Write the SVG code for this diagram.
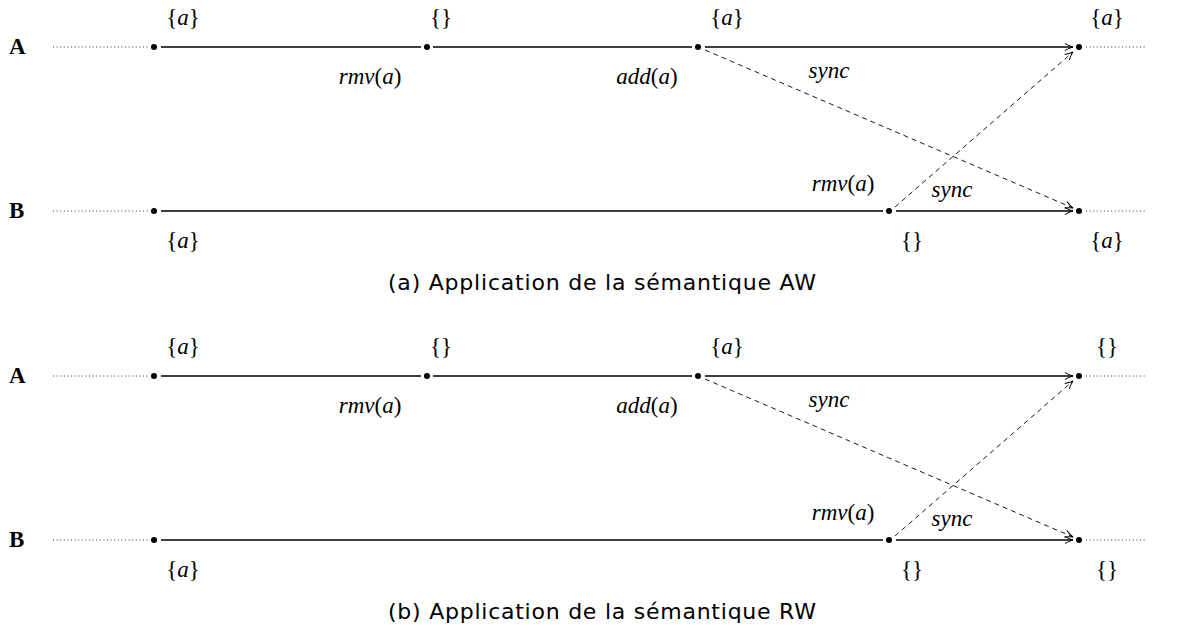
<svg xmlns="http://www.w3.org/2000/svg" width="1181" height="628" viewBox="0 0 1181 628">
<style>
.bg{fill:#fff}
.dot{fill:#000}
.solid{stroke:#000;stroke-width:1.3;fill:none}
.dash{stroke:#000;stroke-width:0.9;stroke-dasharray:5,4;fill:none}
.dotted{stroke:#000;stroke-width:0.8;stroke-dasharray:1,2.6;fill:none}
.m{font-family:"Liberation Serif","DejaVu Serif",serif;font-size:23px;fill:#000}
.i{font-style:italic}
.lab{font-family:"Liberation Serif","DejaVu Serif",serif;font-size:23px;font-weight:bold;fill:#000}
.cap{font-family:"DejaVu Sans","Liberation Sans",sans-serif;font-size:22px;fill:#000}
</style>
<defs>
<marker id="arr" viewBox="0 0 10 10" refX="9" refY="5" markerWidth="10" markerHeight="10" markerUnits="userSpaceOnUse" orient="auto">
<path d="M1,1.5 Q5,4 9,5 Q5,6 1,8.5" fill="none" stroke="#000" stroke-width="1"/>
</marker>
</defs>
<rect class="bg" width="1181" height="628"/>

<!-- Diagram (a) -->
<g id="connectors-a">
<line class="dotted" x1="53" y1="47" x2="148" y2="47"/>
<line class="dotted" x1="1086" y1="47" x2="1146" y2="47"/>
<line class="dotted" x1="53" y1="211" x2="148" y2="211"/>
<line class="dotted" x1="1086" y1="211" x2="1146" y2="211"/>
<line class="solid" x1="161" y1="47" x2="421" y2="47"/>
<line class="solid" x1="433" y1="47" x2="692" y2="47"/>
<line class="solid" x1="705" y1="47" x2="1073" y2="47" marker-end="url(#arr)"/>
<line class="solid" x1="161" y1="211" x2="883" y2="211"/>
<line class="solid" x1="896" y1="211" x2="1073" y2="211" marker-end="url(#arr)"/>
<line class="dash" x1="705" y1="50" x2="1073" y2="208" marker-end="url(#arr)"/>
<line class="dash" x1="895" y1="207" x2="1073" y2="52" marker-end="url(#arr)"/>
</g>
<g id="a-A-label"><text class="lab" x="9" y="54">A</text></g>
<g id="a-B-label"><text class="lab" x="9" y="218">B</text></g>
<g id="a-A1"><circle class="dot" cx="154" cy="47" r="3"/><text class="m" x="183" y="25" text-anchor="middle">{<tspan class="i">a</tspan>}</text></g>
<g id="a-A2"><circle class="dot" cx="427" cy="47" r="3"/><text class="m" x="441" y="25" text-anchor="middle">{}</text><text class="m i" x="370" y="84" text-anchor="middle">rmv<tspan font-style="normal">(</tspan>a<tspan font-style="normal">)</tspan></text></g>
<g id="a-A3"><circle class="dot" cx="698" cy="47" r="3"/><text class="m" x="727" y="25" text-anchor="middle">{<tspan class="i">a</tspan>}</text><text class="m i" x="647" y="84" text-anchor="middle">add<tspan font-style="normal">(</tspan>a<tspan font-style="normal">)</tspan></text><text class="m i" x="829" y="78" text-anchor="middle">sync</text></g>
<g id="a-A4"><circle class="dot" cx="1079" cy="47" r="3"/><text class="m" x="1107" y="25" text-anchor="middle">{<tspan class="i">a</tspan>}</text></g>
<g id="a-B1"><circle class="dot" cx="154" cy="211" r="3"/><text class="m" x="183" y="248" text-anchor="middle">{<tspan class="i">a</tspan>}</text></g>
<g id="a-B2"><circle class="dot" cx="889" cy="211" r="3"/><text class="m i" x="843" y="191" text-anchor="middle">rmv<tspan font-style="normal">(</tspan>a<tspan font-style="normal">)</tspan></text><text class="m" x="912" y="248" text-anchor="middle">{}</text><text class="m i" x="952" y="197" text-anchor="middle">sync</text></g>
<g id="a-B3"><circle class="dot" cx="1079" cy="211" r="3"/><text class="m" x="1107" y="248" text-anchor="middle">{<tspan class="i">a</tspan>}</text></g>
<g id="caption-a"><text class="cap" x="388" y="290" textLength="428" lengthAdjust="spacing">(a) Application de la sémantique AW</text></g>

<!-- Diagram (b) -->
<g id="connectors-b" transform="translate(0,329)">
<line class="dotted" x1="53" y1="47" x2="148" y2="47"/>
<line class="dotted" x1="1086" y1="47" x2="1146" y2="47"/>
<line class="dotted" x1="53" y1="211" x2="148" y2="211"/>
<line class="dotted" x1="1086" y1="211" x2="1146" y2="211"/>
<line class="solid" x1="161" y1="47" x2="421" y2="47"/>
<line class="solid" x1="433" y1="47" x2="692" y2="47"/>
<line class="solid" x1="705" y1="47" x2="1073" y2="47" marker-end="url(#arr)"/>
<line class="solid" x1="161" y1="211" x2="883" y2="211"/>
<line class="solid" x1="896" y1="211" x2="1073" y2="211" marker-end="url(#arr)"/>
<line class="dash" x1="705" y1="50" x2="1073" y2="208" marker-end="url(#arr)"/>
<line class="dash" x1="895" y1="207" x2="1073" y2="52" marker-end="url(#arr)"/>
</g>
<g transform="translate(0,329)">
<g id="b-A-label"><text class="lab" x="9" y="54">A</text></g>
<g id="b-B-label"><text class="lab" x="9" y="218">B</text></g>
<g id="b-A1"><circle class="dot" cx="154" cy="47" r="3"/><text class="m" x="183" y="25" text-anchor="middle">{<tspan class="i">a</tspan>}</text></g>
<g id="b-A2"><circle class="dot" cx="427" cy="47" r="3"/><text class="m" x="441" y="25" text-anchor="middle">{}</text><text class="m i" x="370" y="84" text-anchor="middle">rmv<tspan font-style="normal">(</tspan>a<tspan font-style="normal">)</tspan></text></g>
<g id="b-A3"><circle class="dot" cx="698" cy="47" r="3"/><text class="m" x="727" y="25" text-anchor="middle">{<tspan class="i">a</tspan>}</text><text class="m i" x="647" y="84" text-anchor="middle">add<tspan font-style="normal">(</tspan>a<tspan font-style="normal">)</tspan></text><text class="m i" x="829" y="78" text-anchor="middle">sync</text></g>
<g id="b-A4"><circle class="dot" cx="1079" cy="47" r="3"/><text class="m" x="1107" y="25" text-anchor="middle">{}</text></g>
<g id="b-B1"><circle class="dot" cx="154" cy="211" r="3"/><text class="m" x="183" y="248" text-anchor="middle">{<tspan class="i">a</tspan>}</text></g>
<g id="b-B2"><circle class="dot" cx="889" cy="211" r="3"/><text class="m i" x="843" y="191" text-anchor="middle">rmv<tspan font-style="normal">(</tspan>a<tspan font-style="normal">)</tspan></text><text class="m" x="912" y="248" text-anchor="middle">{}</text><text class="m i" x="952" y="197" text-anchor="middle">sync</text></g>
<g id="b-B3"><circle class="dot" cx="1079" cy="211" r="3"/><text class="m" x="1107" y="248" text-anchor="middle">{}</text></g>
</g>
<g id="caption-b"><text class="cap" x="388" y="619" textLength="428" lengthAdjust="spacing">(b) Application de la sémantique RW</text></g>
</svg>
